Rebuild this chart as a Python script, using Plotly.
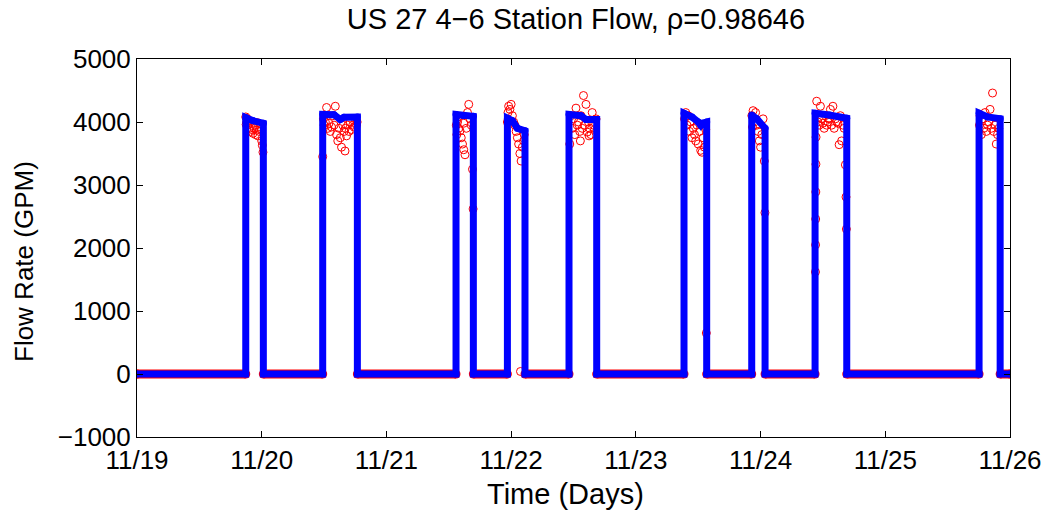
import plotly.graph_objects as go

# --- Axis ticks -----------------------------------------------------------
day_ticks = [0, 1, 2, 3, 4, 5, 6, 7]
day_labels = ["11/19", "11/20", "11/21", "11/22", "11/23", "11/24", "11/25", "11/26"]
flow_ticks = [-1000, 0, 1000, 2000, 3000, 4000, 5000]

# --- Modeled station flow (days since 11/19, GPM) -------------------------
model_t = [0.000, 0.872, 0.872, 0.930, 1.013, 1.013,
           1.489, 1.489, 1.580, 1.630, 1.660, 1.767, 1.767,
           2.558, 2.558, 2.620, 2.697, 2.697,
           2.970, 2.970, 3.010, 3.050, 3.111, 3.111,
           3.464, 3.464, 3.560, 3.600, 3.686, 3.686,
           4.386, 4.386, 4.450, 4.500, 4.520, 4.530, 4.568, 4.568,
           4.929, 4.929, 4.970, 5.036, 5.036,
           5.437, 5.437, 5.550, 5.691, 5.691,
           6.752, 6.752, 6.820, 6.921, 6.921, 7.000]
model_q = [0, 0, 4070, 4020, 3980, 0,
           0, 4120, 4115, 4040, 4075, 4080, 0,
           0, 4120, 4100, 4090, 0,
           0, 4060, 4020, 3900, 3860, 0,
           0, 4120, 4100, 4040, 4040, 0,
           0, 4140, 4080, 4000, 3950, 3980, 4000, 0,
           0, 4110, 4050, 3900, 0,
           0, 4140, 4110, 4060, 0,
           0, 4140, 4080, 4050, 0, 0]

# --- Measured flow while pumps are off (segments at zero) -----------------
off_t = [0.000, 0.872, None, 1.013, 1.489, None, 1.767, 2.558, None,
         2.697, 2.970, None, 3.111, 3.464, None, 3.686, 4.386, None,
         4.568, 4.929, None, 5.036, 5.437, None, 5.691, 6.752, None,
         6.921, 7.000]
off_q = [0, 0, None, 0, 0, None, 0, 0, None,
         0, 0, None, 0, 0, None, 0, 0, None,
         0, 0, None, 0, 0, None, 0, 0, None,
         0, 0]

# --- Measured flow samples while pumps run --------------------------------
meas_t = [
    # 11/19 evening
    0.872, 0.875, 0.880, 0.885, 0.890, 0.900, 0.910, 0.920, 0.930, 0.940,
    0.950, 0.950, 0.960, 0.965, 0.970, 0.980, 0.990, 1.000, 1.005, 1.010,
    # 11/20 midday
    1.489, 1.495, 1.500, 1.510, 1.520, 1.530, 1.540, 1.550, 1.560, 1.570,
    1.580, 1.590, 1.600, 1.610, 1.620, 1.630, 1.640, 1.650, 1.660, 1.668,
    1.670, 1.680, 1.690, 1.700, 1.710, 1.720, 1.730, 1.740, 1.750, 1.760,
    1.765,
    # 11/21 afternoon
    2.560, 2.565, 2.570, 2.575, 2.580, 2.590, 2.600, 2.610, 2.620, 2.620,
    2.630, 2.640, 2.650, 2.660, 2.670, 2.680, 2.690, 2.695,
    # 11/22 early
    2.970, 2.975, 2.980, 2.990, 3.000, 3.010, 3.020, 3.030, 3.040, 3.050,
    3.060, 3.070, 3.075, 3.080, 3.090, 3.100, 3.105,
    # 11/22 midday
    3.470, 3.480, 3.490, 3.500, 3.510, 3.520, 3.530, 3.540, 3.550, 3.555,
    3.560, 3.570, 3.580, 3.590, 3.600, 3.610, 3.620, 3.625, 3.630, 3.640,
    3.650, 3.660, 3.670, 3.680,
    # 11/23 morning
    4.390, 4.400, 4.410, 4.420, 4.430, 4.440, 4.450, 4.460, 4.470, 4.480,
    4.490, 4.500, 4.510, 4.520, 4.530, 4.540, 4.550, 4.560, 4.565,
    # 11/23 night
    4.930, 4.935, 4.940, 4.950, 4.960, 4.970, 4.980, 4.990, 5.000, 5.010,
    5.020, 5.030, 5.035,
    # 11/24 midday
    5.440, 5.441, 5.442, 5.443, 5.444, 5.445, 5.450, 5.460, 5.470, 5.480,
    5.490, 5.500, 5.510, 5.520, 5.530, 5.540, 5.550, 5.560, 5.570, 5.580,
    5.590, 5.600, 5.610, 5.620, 5.630, 5.640, 5.650, 5.660, 5.670, 5.680,
    5.685, 5.688,
    # 11/25 evening
    6.755, 6.760, 6.770, 6.780, 6.790, 6.800, 6.810, 6.820, 6.830, 6.840,
    6.850, 6.860, 6.870, 6.880, 6.890, 6.900, 6.910,
]
meas_q = [
    4080, 3960, 4000, 4050, 3950, 3900, 3850, 3880, 3820, 3900,
    3950, 3800, 3870, 3990, 3780, 3850, 3920, 3700, 3630, 3520,
    3450, 4050, 3950, 4000, 4230, 3900, 3980, 3850, 3920, 4100,
    3950, 4250, 3800, 3700, 3900, 3750, 3600, 3950, 3850, 3540,
    3900, 3780, 3950, 3850, 4000, 3880, 3950, 3920, 4050, 3950,
    4000,
    3950, 3800, 4000, 4080, 3900, 3860, 3750, 3650, 3560, 3980,
    3480, 3900, 4150, 4280, 4050, 3950, 3250, 2620,
    4000, 4150, 4250, 4200, 4280, 4100, 4000, 3950, 3850, 3750,
    3650, 3500, 40, 3380, 3600, 3700, 3800,
    3650, 4100, 3900, 4050, 3800, 4220, 3950, 4000, 3850, 3700,
    4100, 3900, 4420, 3950, 4280, 3840, 4000, 3780, 3900, 3800,
    4150, 3950, 3880, 4050,
    4050, 4150, 3950, 4100, 3850, 4000, 3750, 3900, 3800, 3700,
    3950, 3650, 3850, 3550, 3520, 3750, 3600, 3880, 650,
    4100, 3920, 4180, 4000, 4150, 3950, 3850, 3700, 3600, 3800,
    4050, 3380, 2560,
    1620, 2050, 2460, 2890, 3330, 3760, 4330, 4000, 3950, 4250,
    4050, 3980, 3900, 4100, 3950, 4000, 4050, 4200, 3950, 4250,
    3900, 4050, 4000, 3980, 3640, 4100, 3700, 3950, 3900, 3320,
    2810, 2300,
    3950, 4100, 3800, 4050, 3900, 4150, 3850, 3950, 4000, 4200,
    3900, 4460, 3850, 3950, 3650, 3800, 3900,
]

RED = "#ff0000"
BLUE = "#0000ff"
FONT = "Liberation Sans, Arial, Helvetica, sans-serif"

W, H = 1051, 512
L, R, T, B = 137, 41, 59, 75

fig = go.Figure()

fig.add_trace(go.Scatter(
    x=off_t, y=off_q, mode="lines+markers",
    line=dict(color=RED, width=9),
    marker=dict(color=RED, size=9, symbol="circle"),
    hoverinfo="skip", showlegend=False,
))

fig.add_trace(go.Scatter(
    x=meas_t, y=meas_q, mode="markers",
    marker=dict(symbol="circle-open", color=RED, size=8, line=dict(width=1, color=RED)),
    showlegend=False,
))

fig.add_trace(go.Scatter(
    x=model_t, y=model_q, mode="lines+markers",
    line=dict(color=BLUE, width=7),
    marker=dict(color=BLUE, size=7),
    showlegend=False,
))

axis_common = dict(
    showline=True, linecolor="black", linewidth=1, mirror="ticks",
    ticks="inside", ticklen=6, tickcolor="black", tickwidth=1,
    showgrid=False, zeroline=False, automargin=False,
    tickfont=dict(family=FONT, size=26, color="black"),
)

fig.update_layout(
    width=W, height=H,
    margin=dict(l=L, r=R, t=T, b=B),
    paper_bgcolor="white", plot_bgcolor="white",
    title=dict(
        text="US 27 4\u22126 Station Flow, \u03c1=0.98646",
        x=576 / W, xanchor="center",
        y=1 - 19 / H, yanchor="middle", yref="container",
        font=dict(family=FONT, size=29, color="black"),
    ),
    xaxis=dict(
        range=[0, 7], tickmode="array", tickvals=day_ticks, ticktext=day_labels,
        **axis_common,
    ),
    yaxis=dict(
        range=[-1000, 5000], tickmode="array", tickvals=flow_ticks,
        **axis_common,
    ),
)

# Axis titles placed in paper coordinates
plot_w = W - L - R
plot_h = H - T - B
fig.add_annotation(
    text="Time (Days)", showarrow=False,
    xref="paper", yref="paper",
    x=(565 - L) / plot_w, y=-(494 - (H - B)) / plot_h,
    xanchor="center", yanchor="middle",
    font=dict(family=FONT, size=29, color="black"),
)
fig.add_annotation(
    text="Flow Rate (GPM)", showarrow=False, textangle=-90,
    xref="paper", yref="paper",
    x=-(L - 24) / plot_w, y=(H - B - 261) / plot_h,
    xanchor="center", yanchor="middle",
    font=dict(family=FONT, size=26, color="black"),
)

fig.write_html("out.html")
